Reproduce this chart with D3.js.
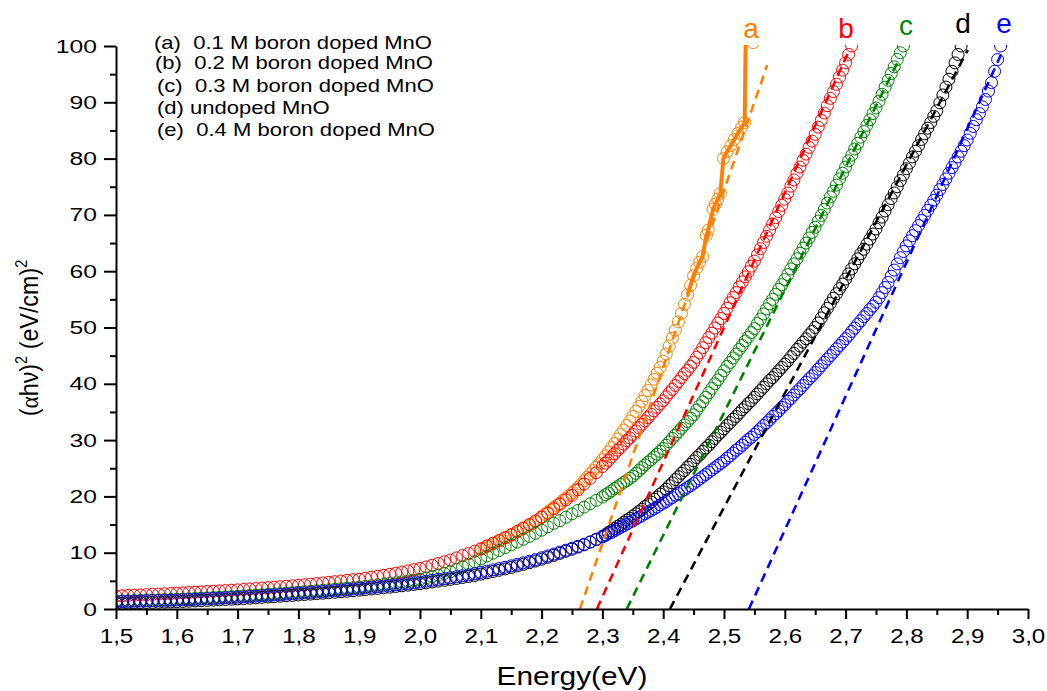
<!DOCTYPE html>
<html><head><meta charset="utf-8">
<script src="https://cdn.jsdelivr.net/npm/d3@7"></script>
<style>
body{margin:0;background:#fff}
svg{display:block;background:#fff}
text{font-family:"Liberation Sans",Arial,Helvetica,sans-serif;white-space:pre}
</style>
</head><body>
<svg id="chart" width="1047" height="691"></svg>
<script>
// ---------------- DATA ----------------
const xTicks = [1.5,1.6,1.7,1.8,1.9,2.0,2.1,2.2,2.3,2.4,2.5,2.6,2.7,2.8,2.9,3.0];
const xTickLabels = ["1,5","1,6","1,7","1,8","1,9","2,0","2,1","2,2","2,3","2,4","2,5","2,6","2,7","2,8","2,9","3,0"];
const xMinorTicks = [1.55,1.65,1.75,1.85,1.95,2.05,2.15,2.25,2.35,2.45,2.55,2.65,2.75,2.85,2.95];
const yTicks = [0,10,20,30,40,50,60,70,80,90,100];
const yMinorTicks = [5,15,25,35,45,55,65,75,85,95];

const seriesNames = ["(a)  0.1 M boron doped MnO","(b)  0.2 M boron doped MnO","(c)  0.3 M boron doped MnO","(d) undoped MnO","(e)  0.4 M boron doped MnO"];
const seriesLetters = ["a","b","c","d","e"];
const seriesColors = ["#ff8000","#ff0000","#008000","#000000","#0000ff"];

// energy grid (eV)
const energyLow = [
1.50,1.51,1.52,1.53,1.54,1.55,1.56,1.57,1.58,1.59,
1.60,1.61,1.62,1.63,1.64,1.65,1.66,1.67,1.68,1.69,
1.70,1.71,1.72,1.73,1.74,1.75,1.76,1.77,1.78,1.79,
1.80,1.81,1.82,1.83,1.84,1.85,1.86,1.87,1.88,1.89,
1.90,1.91,1.92,1.93,1.94,1.95,1.96,1.97,1.98,1.99,
2.00,2.01,2.02,2.03,2.04,2.05,2.06,2.07,2.08,2.09,
2.10,2.11,2.12,2.13,2.14,2.15,2.16,2.17,2.18,2.19,
2.20,2.21,2.22,2.23,2.24,2.25,2.26,2.27,2.28,2.29];
const energyHigh = [
2.300,2.305,2.310,2.315,2.320,2.325,2.330,2.335,2.340,2.345,
2.350,2.355,2.360,2.365,2.370,2.375,2.380,2.385,2.390,2.395,
2.400,2.405,2.410,2.415,2.420,2.425,2.430,2.435,2.440,2.445,
2.450,2.455,2.460,2.465,2.470,2.475,2.480,2.485,2.490,2.495,
2.500,2.505,2.510,2.515,2.520,2.525,2.530,2.535,2.540,2.545,
2.550,2.555,2.560,2.565,2.570,2.575,2.580,2.585,2.590,2.595,
2.600,2.605,2.610,2.615,2.620,2.625,2.630,2.635,2.640,2.645,
2.650,2.655,2.660,2.665,2.670,2.675,2.680,2.685,2.690,2.695,
2.700,2.705,2.710,2.715,2.720,2.725,2.730,2.735,2.740,2.745,
2.750,2.755,2.760,2.765,2.770,2.775,2.780,2.785,2.790,2.795,
2.800,2.805,2.810,2.815,2.820,2.825,2.830,2.835,2.840,2.845,
2.850,2.855,2.860,2.865,2.870,2.875,2.880,2.885,2.890,2.895,
2.900,2.905,2.910,2.915,2.920,2.925,2.930,2.935,2.940,2.945,
2.950,2.955];

// (b) 0.2 M  (red)
const bLow = [
2.30,2.35,2.40,2.45,2.50,2.55,2.60,2.65,2.70,2.75,
2.80,2.86,2.92,2.98,3.04,3.10,3.16,3.22,3.28,3.34,
3.40,3.48,3.56,3.64,3.72,3.80,3.88,3.96,4.04,4.12,
4.20,4.30,4.40,4.51,4.62,4.73,4.85,4.97,5.09,5.20,
5.30,5.46,5.63,5.80,5.98,6.16,6.35,6.55,6.76,6.98,
7.20,7.48,7.77,8.07,8.38,8.70,9.08,9.47,9.87,10.28,
10.70,11.18,11.66,12.16,12.67,13.20,13.78,14.38,15.00,15.64,
16.30,17.0,17.8,18.6,19.4,20.2,21.2,22.2,23.2,24.2];
const bHigh = [
25.3,25.9,26.4,27.0,27.6,28.2,28.7,29.3,29.9,30.4,
31.0,31.6,32.2,32.8,33.4,34.0,34.6,35.2,35.8,36.4,
37.0,37.7,38.4,39.0,39.7,40.4,41.1,41.8,42.4,43.1,
43.8,44.7,45.5,46.4,47.3,48.2,49.0,49.9,50.8,51.6,
52.5,53.4,54.4,55.3,56.2,57.2,58.1,59.0,59.9,60.9,
61.8,62.9,64.0,65.1,66.2,67.3,68.4,69.5,70.6,71.7,
72.8,73.9,75.1,76.2,77.4,78.5,79.7,80.8,82.0,83.1,
84.3,85.6,86.8,88.1,89.4,90.7,91.9,93.2,94.5,95.7,
97.0,98.5,100.0];

// (c) 0.3 M  (green)
const cLow = [
1.40,1.43,1.46,1.49,1.52,1.55,1.59,1.62,1.65,1.69,
1.72,1.77,1.82,1.87,1.92,1.97,2.03,2.08,2.14,2.19,
2.25,2.32,2.39,2.46,2.53,2.60,2.68,2.75,2.83,2.90,
2.98,3.06,3.15,3.24,3.33,3.42,3.51,3.60,3.69,3.78,
3.88,4.00,4.12,4.25,4.38,4.51,4.65,4.80,4.95,5.10,
5.25,5.50,5.76,6.02,6.30,6.60,7.05,7.50,7.95,8.40,
8.90,9.40,9.90,10.40,10.90,11.40,11.90,12.40,12.90,13.45,
14.0,14.6,15.2,15.7,16.3,16.9,17.5,18.1,18.7,19.3];
const cHigh = [
19.9,20.3,20.6,21.0,21.4,21.7,22.1,22.5,22.8,23.2,
23.6,24.1,24.6,25.1,25.6,26.1,26.5,27.0,27.5,28.0,
28.5,29.1,29.7,30.3,30.9,31.5,32.1,32.7,33.3,33.9,
34.5,35.3,36.1,36.8,37.6,38.4,39.2,40.0,40.7,41.5,
42.3,43.1,43.8,44.6,45.3,46.1,46.8,47.6,48.3,49.1,
49.8,50.7,51.5,52.4,53.3,54.2,55.0,55.9,56.8,57.6,
58.5,59.4,60.4,61.3,62.2,63.2,64.1,65.0,65.9,66.9,
67.8,68.9,69.9,71.0,72.1,73.2,74.2,75.3,76.4,77.4,
78.5,79.6,80.6,81.7,82.7,83.8,84.8,85.9,86.9,88.0,
89.0,90.2,91.4,92.7,93.9,95.1,96.3,97.6,98.8,100.0];

// (d) undoped (black)
const dLow = [
1.00,1.03,1.06,1.09,1.12,1.15,1.18,1.21,1.24,1.27,
1.30,1.34,1.38,1.43,1.48,1.53,1.58,1.63,1.69,1.74,
1.80,1.86,1.92,1.99,2.06,2.13,2.20,2.27,2.35,2.42,
2.50,2.57,2.65,2.73,2.81,2.89,2.97,3.06,3.15,3.25,
3.35,3.45,3.55,3.66,3.77,3.88,4.00,4.12,4.24,4.37,
4.50,4.65,4.80,4.95,5.10,5.26,5.42,5.60,5.78,5.97,
6.20,6.42,6.65,6.88,7.12,7.38,7.65,7.93,8.22,8.52,
8.85,9.18,9.52,9.88,10.25,10.62,11.0,11.4,11.9,12.4];
const dHigh = [
12.9,13.2,13.6,13.9,14.3,14.7,15.0,15.4,15.8,16.1,
16.5,16.9,17.3,17.7,18.2,18.6,19.0,19.5,19.9,20.4,
20.8,21.3,21.9,22.4,23.0,23.5,24.1,24.6,25.2,25.7,
26.3,26.9,27.4,28.0,28.6,29.1,29.7,30.3,30.9,31.4,
32.0,32.6,33.1,33.7,34.2,34.8,35.4,35.9,36.5,37.0,
37.6,38.2,38.8,39.4,40.0,40.6,41.1,41.7,42.3,42.9,
43.5,44.1,44.8,45.4,46.1,46.7,47.4,48.0,48.7,49.3,
50.0,50.8,51.7,52.6,53.4,54.3,55.2,56.0,56.9,57.7,
58.6,59.5,60.4,61.3,62.2,63.1,63.9,64.8,65.7,66.6,
67.5,68.6,69.6,70.7,71.8,72.9,73.9,75.0,76.1,77.1,
78.2,79.2,80.3,81.3,82.3,83.4,84.4,85.4,86.4,87.5,
88.5,89.9,91.3,92.7,94.1,95.5,97.0,98.5,100.0];

// (e) 0.4 M (blue)
const eLow = [
1.30,1.33,1.36,1.39,1.42,1.45,1.48,1.51,1.54,1.57,
1.60,1.64,1.68,1.73,1.78,1.83,1.88,1.93,1.99,2.04,
2.10,2.16,2.22,2.29,2.36,2.43,2.50,2.57,2.65,2.72,
2.80,2.87,2.95,3.03,3.11,3.19,3.27,3.36,3.45,3.55,
3.65,3.75,3.85,3.96,4.07,4.18,4.30,4.42,4.54,4.67,
4.80,4.95,5.10,5.25,5.40,5.56,5.72,5.90,6.08,6.27,
6.50,6.72,6.95,7.18,7.42,7.67,7.93,8.20,8.48,8.77,
9.10,9.42,9.75,10.1,10.45,10.8,11.15,11.5,11.9,12.3];
const eHigh = [
12.8,13.1,13.4,13.6,13.9,14.2,14.5,14.8,15.1,15.4,
15.7,16.0,16.3,16.6,16.9,17.2,17.5,17.8,18.1,18.5,
18.8,19.1,19.5,19.8,20.2,20.5,20.9,21.2,21.6,21.9,
22.3,22.7,23.1,23.5,23.9,24.3,24.7,25.1,25.5,25.9,
26.3,26.8,27.2,27.7,28.2,28.6,29.1,29.6,30.1,30.5,
31.0,31.5,32.0,32.6,33.1,33.6,34.2,34.7,35.2,35.8,
36.3,36.9,37.4,38.0,38.6,39.1,39.7,40.3,40.9,41.4,
42.0,42.6,43.2,43.8,44.4,45.0,45.6,46.2,46.8,47.4,
48.0,48.6,49.3,49.9,50.6,51.2,51.9,52.5,53.2,53.8,
54.5,55.3,56.2,57.1,58.0,59.1,60.2,61.3,62.4,63.5,
64.5,65.4,66.3,67.2,68.1,69.0,69.9,70.8,71.7,72.6,
73.5,74.5,75.4,76.4,77.4,78.4,79.3,80.3,81.3,82.3,
83.3,84.5,85.7,86.9,88.0,89.2,90.5,92.0,93.5,95.5,
97.6,100.0];

// (a) 0.1 M (orange) - own energy list
const aEnergy = [
2.100,2.105,2.110,2.115,2.120,2.125,2.130,2.135,2.140,2.145,
2.150,2.155,2.160,2.165,2.170,2.175,2.180,2.185,2.190,2.195,
2.200,2.205,2.210,2.215,2.220,2.225,2.230,2.235,2.240,2.245,
2.250,2.255,2.260,2.265,2.270,2.275,2.280,2.285,2.290,2.295,
2.300,2.305,2.310,2.315,2.320,2.325,2.330,2.335,2.340,2.345,
2.350,2.355,2.360,2.365,2.370,2.375,2.380,2.385,2.390,2.395,
2.400,2.405,2.410,2.415,2.420,2.425,2.430,2.435,2.440,2.445,
2.450,2.455,2.460,2.465,
2.471,2.474,2.482,2.486,2.490,2.494,2.499,2.505,2.511,2.517,2.523,2.529,2.534,2.536,2.548];
const aValues = [
10.6,10.8,11.1,11.3,11.6,11.8,12.1,12.3,12.6,12.8,
13.1,13.4,13.7,14.0,14.3,14.6,14.9,15.2,15.5,15.9,
16.4,16.8,17.2,17.6,18.0,18.4,18.8,19.3,19.7,20.1,
20.6,21.1,21.6,22.2,22.8,23.4,24.0,24.6,25.2,25.8,
26.5,27.2,27.9,28.7,29.4,30.2,31.0,31.8,32.6,33.4,
34.2,35.1,36.0,36.9,37.9,38.8,39.8,40.8,41.9,42.9,
44.0,45.3,46.7,48.1,49.5,51.0,52.5,54.1,55.8,57.5,
59.2,60.5,61.6,62.6,
66.4,67.3,71.0,71.9,72.8,73.8,80.0,81.2,82.3,83.4,84.5,85.6,86.4,104.0,100.6];
const aLineFrom = 2.44; // solid connecting line drawn for the sparse upper part

// linear (Tauc) extrapolation lines: [E at zero, E at end, value at end]
const fitZeroE = [2.263, 2.291, 2.340, 2.411, 2.541];
const fitEndE  = [2.571, 2.707, 2.785, 2.901, 2.957];
const fitEndV  = [96.6, 99.5, 97.0, 99.3, 98.8];

// ---------------- CHART ----------------
const svg = d3.select("#chart");
const x = d3.scaleLinear().domain([1.5, 3.0]).range([116, 1028]);
const y = d3.scaleLinear().domain([0, 100]).range([609, 46]);

svg.append("defs").append("clipPath").attr("id","plotClip")
  .append("rect").attr("x", x(1.5)).attr("y", y(100) - 1)
  .attr("width", 1040 - x(1.5)).attr("height", y(0) - y(100) + 2);

const plot = svg.append("g").attr("clip-path","url(#plotClip)");

const eAll = energyLow.concat(energyHigh);
const seriesData = [
  aEnergy.map((e,i)=>[e, aValues[i]]),
  bLow.concat(bHigh).map((v,i)=>[eAll[i], v]),
  cLow.concat(cHigh).map((v,i)=>[eAll[i], v]),
  dLow.concat(dHigh).map((v,i)=>[eAll[i], v]),
  eLow.concat(eHigh).map((v,i)=>[eAll[i], v])
];

const line = d3.line().x(d=>x(d[0])).y(d=>y(d[1]));

// orange connecting line
plot.append("path")
  .datum(seriesData[0].filter(d=>d[0] >= aLineFrom))
  .attr("d", line).attr("fill","none")
  .attr("stroke", seriesColors[0]).attr("stroke-width", 4);

seriesData.forEach((pts, si) => {
  plot.append("g").selectAll("circle").data(pts).enter().append("circle")
    .attr("cx", d=>x(d[0])).attr("cy", d=>y(d[1])).attr("r", 6)
    .attr("fill","none").attr("stroke", seriesColors[si]).attr("stroke-width", 1);
});

// dashed extrapolation lines
fitZeroE.forEach((e0, i) => {
  plot.append("path")
    .datum([[e0, 0], [fitEndE[i], fitEndV[i]]])
    .attr("d", line).attr("fill","none")
    .attr("stroke", seriesColors[i]).attr("stroke-width", 2.6)
    .attr("stroke-dasharray","9,6");
});

// axes
const fmtX = d => xTickLabels[xTicks.indexOf(d)];
const gx = svg.append("g").attr("transform", `translate(0,${y(0)})`)
  .call(d3.axisBottom(x).tickValues(xTicks).tickFormat(fmtX).tickSize(10).tickSizeOuter(0).tickPadding(9));
gx.append("g").call(d3.axisBottom(x).tickValues(xMinorTicks).tickFormat("").tickSize(6).tickSizeOuter(0))
  .select(".domain").remove();
gx.selectAll("path,line").attr("stroke","#000").attr("stroke-width",2);
gx.selectAll("text").attr("font-size",21).attr("fill","#000")
  .attr("font-family","Liberation Sans, Arial, sans-serif")
  .attr("transform","scale(1.15,1)");

const gy = svg.append("g").attr("transform", `translate(${x(1.5)},0)`)
  .call(d3.axisLeft(y).tickValues(yTicks).tickSize(12).tickSizeOuter(0).tickPadding(7));
gy.append("g").call(d3.axisLeft(y).tickValues(yMinorTicks).tickFormat("").tickSize(6).tickSizeOuter(0))
  .select(".domain").remove();
gy.selectAll("path,line").attr("stroke","#000").attr("stroke-width",2);
const ySX = 1.3;
gy.selectAll(".tick text").attr("font-size",19).attr("fill","#000")
  .attr("font-family","Liberation Sans, Arial, sans-serif")
  .attr("x", -19 / ySX).attr("transform", `scale(${ySX},1)`);

// axis titles
svg.append("text").attr("transform","translate(572,685) scale(1.17,1)")
  .attr("text-anchor","middle").attr("font-size",25.5).attr("fill","#000")
  .text("Energy(eV)");

const yt = svg.append("text").attr("transform","translate(38,338) scale(1.1,1) rotate(-90)")
  .attr("text-anchor","middle").attr("font-size",23.3).attr("fill","#000");
yt.append("tspan").text("(");
yt.append("tspan").attr("font-family","Liberation Serif, Times New Roman, serif").text("\u03B1");
yt.append("tspan").text("h\u03BD)");
yt.append("tspan").attr("font-size",14.5).attr("dy",-10).text("2");
yt.append("tspan").attr("dy",10).text(" (eV/cm)");
yt.append("tspan").attr("font-size",14.5).attr("dy",-10).text("2");

// legend (text only)
const legendX = [154,155,157,157,157];
const legendY = [49,69,92,114,136];
seriesNames.forEach((t,i)=>{
  svg.append("text").attr("transform",`translate(${legendX[i]},${legendY[i]}) scale(1.26,1)`)
    .attr("font-size",17.5).attr("fill","#000").text(t);
});

// series letters at top
const letterX = [751,846,906,963,1004];
const letterY = [38,38,35,33,33];
seriesLetters.forEach((t,i)=>{
  svg.append("text").attr("x",letterX[i]).attr("y",letterY[i])
    .attr("text-anchor","middle").attr("font-size",28).attr("fill",seriesColors[i]).text(t);
});
</script>
</body></html>
